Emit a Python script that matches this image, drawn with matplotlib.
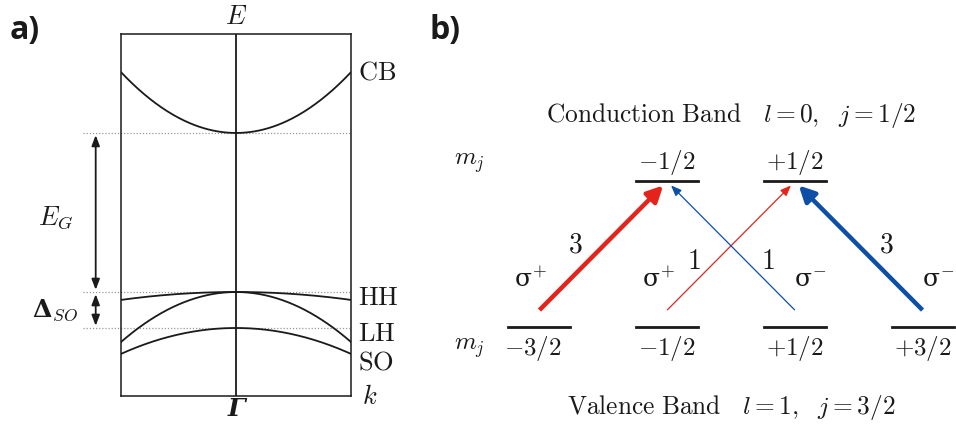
import numpy as np
import matplotlib.pyplot as plt
from matplotlib.patches import FancyArrowPatch

plt.rcParams["mathtext.fontset"] = "cm"
plt.rcParams["font.family"] = ["DejaVu Serif"]

INK = "#1a1a1a"
RED = "#e5231b"
BLUE = "#0d4ea6"

# ---- band structure near Gamma (energies in units of the spin-orbit gap) ----
K_RANGE = (-1.0, 1.0)
E_RANGE = (-2.89, 7.17)
band_names = ["CB", "HH", "LH", "SO"]
band_top = [4.42, 0.0, 0.0, -1.0]        # energy at k = 0
band_edge = [6.11, -0.22, -1.39, -1.72]  # energy at the zone edge
band_label_e = [6.11, -0.14, -1.14, -1.94]

# ---- optical selection rules ----
cb_mj = [-0.5, 0.5]
cb_mj_labels = ["$-1/2$", "$+1/2$"]
vb_mj = [-1.5, -0.5, 0.5, 1.5]
vb_mj_labels = ["$-3/2$", "$-1/2$", "$+1/2$", "$+3/2$"]
trans_from = [-1.5, -0.5, 0.5, 1.5]
trans_to = [-0.5, 0.5, -0.5, 0.5]
trans_strength = [3, 1, 1, 3]
trans_pol = ["+", "+", "-", "-"]

fig = plt.figure(figsize=(9.56, 4.26), dpi=100)

# ---------------- a) band diagram ----------------
ax = fig.add_axes([121 / 956, 30 / 426, 230 / 956, 362 / 426])
ax.set_xlim(*K_RANGE)
ax.set_ylim(*E_RANGE)
ax.set_xticks([])
ax.set_yticks([])
for s in ax.spines.values():
    s.set_linewidth(1.1)
    s.set_color(INK)

ax.axvline(0, color=INK, lw=1.3)
k = np.linspace(-1, 1, 201)
for name, e0, e1, ely in zip(band_names, band_top, band_edge, band_label_e):
    ax.plot(k, e0 + (e1 - e0) * k ** 2, color=INK, lw=1.3)
    ax.text(1.06, ely, r"$\mathrm{%s}$" % name, fontsize=19, ha="left",
            va="center", color=INK)

# reference levels at the band extrema
for e in [band_top[0], band_top[1], band_top[3]]:
    ax.plot([-1.33, 1.0], [e, e], color="#9a9a9a", lw=0.9, ls=(0, (1, 1.5)),
            clip_on=False, zorder=0)

arrow_k = -1.22
for lo, hi in [(band_top[1], band_top[0]), (band_top[3], band_top[1])]:
    ax.add_patch(FancyArrowPatch((arrow_k, lo + 0.06), (arrow_k, hi - 0.06),
                                 arrowstyle="<|-|>,head_length=4.2,head_width=1.6",
                                 color=INK, lw=1.3, clip_on=False,
                                 shrinkA=0, shrinkB=0, mutation_scale=1.5))

ax.text(-1.57, 2.06, r"$E_G$", fontsize=19, ha="center", va="center", color=INK)
ax.text(-1.57, -0.5, "Δ$_{SO}$", fontsize=18, fontweight="bold", ha="center",
        va="center", color=INK)
ax.text(0, 7.67, r"$E$", fontsize=19, ha="center", va="center", color=INK)
ax.text(0, -3.25, "Γ", fontsize=18, ha="center", va="center", color=INK,
        style="italic", fontweight="bold", family="DejaVu Serif")
ax.text(1.1, -2.89, r"$k$", fontsize=19, ha="left", va="center", color=INK)

fig.text(10 / 956, 1 - 30 / 426, "a)", fontsize=23, fontweight="bold",
         family="Open Sans", ha="left", va="center", color=INK)
fig.text(430 / 956, 1 - 30 / 426, "b)", fontsize=23, fontweight="bold",
         family="Open Sans", ha="left", va="center", color=INK)

# ---------------- b) selection rules ----------------
bx = fig.add_axes([430 / 956, 0, 526 / 956, 1])
bx.set_xlim(-2.357, 1.762)
bx.set_ylim(-0.678, 2.24)
bx.axis("off")

half = 0.243
for m, lab in zip(cb_mj, cb_mj_labels):
    bx.plot([m - half, m + half], [1, 1], color=INK, lw=2)
    bx.text(m, 1.125, lab, fontsize=18, ha="center", va="center", color=INK)
for m, lab in zip(vb_mj, vb_mj_labels):
    bx.plot([m - half, m + half], [0, 0], color=INK, lw=2)
    bx.text(m - 0.05 * (m < -1), -0.145, lab, fontsize=18, ha="center",
            va="center", color=INK)

bx.text(-2.05, 1.12, r"$m_j$", fontsize=18, ha="center", va="center", color=INK)
bx.text(-2.05, -0.145, r"$m_j$", fontsize=18, ha="center", va="center", color=INK)
bx.text(0.0, 1.45, r"$\mathrm{Conduction\ Band}\quad l=0,\ \ j=1/2$",
        fontsize=18.3, ha="center", va="center", color=INK)
bx.text(0.0, -0.55, r"$\mathrm{Valence\ Band}\quad l=1,\ \ j=3/2$",
        fontsize=18.3, ha="center", va="center", color=INK)

for m0, m1, s, pol in zip(trans_from, trans_to, trans_strength, trans_pol):
    col = RED if pol == "+" else BLUE
    strong = s == 3
    y0, y1 = 0.116, 0.97
    x1 = m1 - 0.03 * np.sign(m1 - m0)
    bx.add_patch(FancyArrowPatch(
        (m0, y0), (x1, y1),
        arrowstyle=("-|>,head_length=6,head_width=3" if strong
                    else "-|>,head_length=4,head_width=1.6"),
        color=col, lw=3.2 if strong else 0.9, shrinkA=0, shrinkB=0,
        mutation_scale=1.6, capstyle="butt"))
    # strength label beside the arrow
    t = 0.52 if strong else 0.39
    side = -1 if pol == "+" else 1
    lx = m0 + t * (x1 - m0) + side * (0.22 if strong else 0.17)
    ly = y0 + t * (y1 - y0)
    bx.text(lx, ly, "$%d$" % s, fontsize=20, ha="center", va="center", color=INK)
    bx.text(m0 + (-0.07 if pol == "+" else 0.12), 0.322,
            "σ$^{%s}$" % ("+" if pol == "+" else "-"),
            fontsize=18, ha="center", va="center", color=INK)

fig.savefig("out.png", dpi=100)
